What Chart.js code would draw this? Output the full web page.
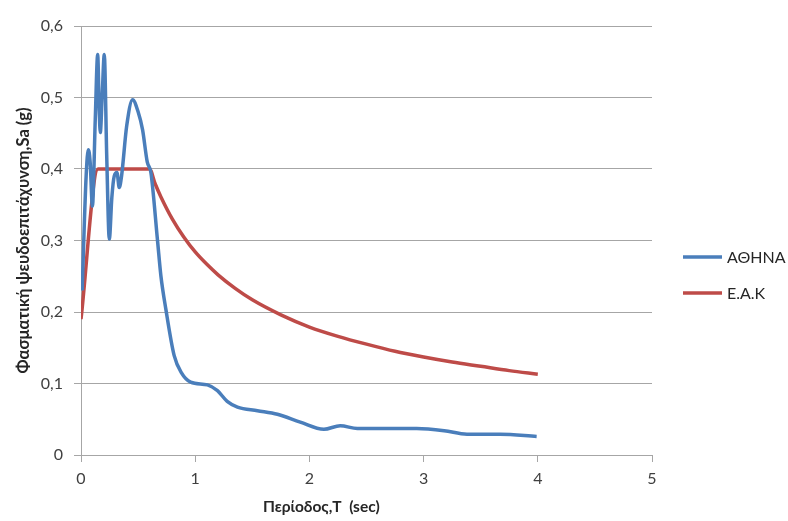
<!DOCTYPE html>
<html>
<head>
<meta charset="utf-8">
<script src="https://cdn.jsdelivr.net/npm/chart.js@4"></script>
<style>
  html, body { margin: 0; padding: 0; background: #fff; }
  #wrap { width: 788px; height: 521px; }
</style>
</head>
<body>
<div id="wrap"><canvas id="spectrum-chart"></canvas></div>
<script>
'use strict';

// Data
let seriesNames = ['ΑΘΗΝΑ', 'Ε.Α.Κ'];

let athensT = [0.01, 0.045, 0.064, 0.08, 0.10, 0.125, 0.146, 0.16, 0.169, 0.185, 0.204, 0.225, 0.248, 0.27, 0.291, 0.315, 0.335, 0.355, 0.40, 0.452, 0.50, 0.539, 0.58, 0.612, 0.67, 0.70, 0.743, 0.816, 0.88, 0.96, 1.107, 1.195, 1.28, 1.37, 1.545, 1.72, 1.92, 2.127, 2.27, 2.42, 2.94, 3.18, 3.38, 3.67, 3.99];
let athensSa = [0.23, 0.39, 0.427, 0.41, 0.348, 0.47, 0.56, 0.48, 0.451, 0.50, 0.56, 0.42, 0.302, 0.36, 0.39, 0.395, 0.374, 0.39, 0.46, 0.497, 0.48, 0.455, 0.41, 0.395, 0.30, 0.25, 0.204, 0.139, 0.115, 0.102, 0.098, 0.09, 0.075, 0.067, 0.062, 0.057, 0.046, 0.036, 0.041, 0.037, 0.037, 0.034, 0.029, 0.029, 0.026];

let eakT = [0, 0.15, 0.6, 0.65, 0.7, 0.8, 0.9, 1.0, 1.1, 1.2, 1.35, 1.5, 1.75, 2.0, 2.25, 2.5, 2.75, 3.0, 3.25, 3.5, 3.75, 4.0];
let eakSa = [0.19, 0.40, 0.40, 0.379, 0.361, 0.33, 0.305, 0.284, 0.267, 0.252, 0.233, 0.217, 0.196, 0.179, 0.166, 0.155, 0.145, 0.137, 0.130, 0.124, 0.118, 0.113];

let xTicks = [0, 1, 2, 3, 4, 5];
let yTicks = [0, 0.1, 0.2, 0.3, 0.4, 0.5, 0.6];

// Colors
let blueLine = '#4a7ebb';
let redLine = '#be4b48';
let gridGray = '#a6a6a6';
let textGray = '#404040';
let fontName = 'Lato, "Open Sans", sans-serif';

function toPoints(xs, ys) {
  let pts = [];
  for (let i = 0; i < xs.length; i++) {
    pts.push({ x: xs[i], y: ys[i] });
  }
  return pts;
}

function commaLabel(v) {
  if (v === 0) return '0';
  return v.toFixed(1).replace('.', ',');
}

// legend drawn at the right, like the original sheet
const sideLegend = {
  id: 'sideLegend',
  afterDraw(chart) {
    let c = chart.ctx;
    let colors = [blueLine, redLine];
    let rows = [257, 293];
    c.save();
    c.font = '16px ' + fontName;
    c.textBaseline = 'middle';
    c.textAlign = 'left';
    for (let i = 0; i < seriesNames.length; i++) {
      c.strokeStyle = colors[i];
      c.lineWidth = 3.5;
      c.beginPath();
      c.moveTo(683, rows[i]);
      c.lineTo(722, rows[i]);
      c.stroke();
      c.fillStyle = '#262626';
      c.fillText(seriesNames[i], 727, rows[i] + 1);
    }
    c.restore();
  }
};

const ctx = document.getElementById('spectrum-chart').getContext('2d');

let chartObject = {
  type: 'scatter',
  data: {
    datasets: [{
      label: seriesNames[0],
      data: toPoints(athensT, athensSa),
      showLine: true,
      borderColor: blueLine,
      backgroundColor: blueLine,
      borderWidth: 3.5,
      pointRadius: 0,
      cubicInterpolationMode: 'monotone'
    },
    {
      label: seriesNames[1],
      data: toPoints(eakT, eakSa),
      showLine: true,
      borderColor: redLine,
      backgroundColor: redLine,
      borderWidth: 3.5,
      pointRadius: 0,
      cubicInterpolationMode: 'monotone'
    }]
  },
  options: {
    responsive: true,
    maintainAspectRatio: false,
    animation: false,
    layout: {
      padding: { top: 26, right: 136, bottom: 0, left: 0 }
    },
    plugins: {
      legend: { display: false },
      tooltip: { enabled: false }
    },
    scales: {
      x: {
        type: 'linear',
        min: 0,
        max: 5,
        afterBuildTicks(scale) {
          scale.ticks = xTicks.map(v => ({ value: v }));
        },
        afterFit(scale) {
          scale.height = 66;
        },
        ticks: {
          color: textGray,
          padding: 7,
          font: { family: fontName, size: 16 }
        },
        grid: {
          drawOnChartArea: false,
          drawTicks: true,
          tickLength: 7,
          tickColor: gridGray
        },
        border: { color: gridGray, width: 1 },
        title: {
          display: true,
          // trailing spaces push the title left of center, as in the original
          text: 'Περίοδος,T  (sec)                        ',
          color: '#262626',
          font: { family: fontName, size: 15.5, weight: 'bold' },
          padding: { top: 0, bottom: 5 }
        }
      },
      y: {
        min: 0,
        max: 0.6,
        afterBuildTicks(scale) {
          scale.ticks = yTicks.map(v => ({ value: v }));
        },
        afterFit(scale) {
          scale.width = 81;
        },
        ticks: {
          color: textGray,
          padding: 11,
          font: { family: fontName, size: 16 },
          callback: v => commaLabel(v)
        },
        grid: {
          color: gridGray,
          lineWidth: 1,
          drawTicks: true,
          tickLength: 7,
          tickColor: gridGray
        },
        border: { color: gridGray, width: 1 },
        title: {
          display: true,
          text: 'Φασματική ψευδοεπιτάχυνση,Sa (g)',
          color: '#262626',
          font: { family: fontName, size: 16.5, weight: 'bold' },
          padding: { top: 14, bottom: 0 }
        }
      }
    }
  },
  plugins: [sideLegend]
};

// eslint-disable-next-line no-unused-vars
const myChart = new Chart(ctx, chartObject);
</script>
</body>
</html>
